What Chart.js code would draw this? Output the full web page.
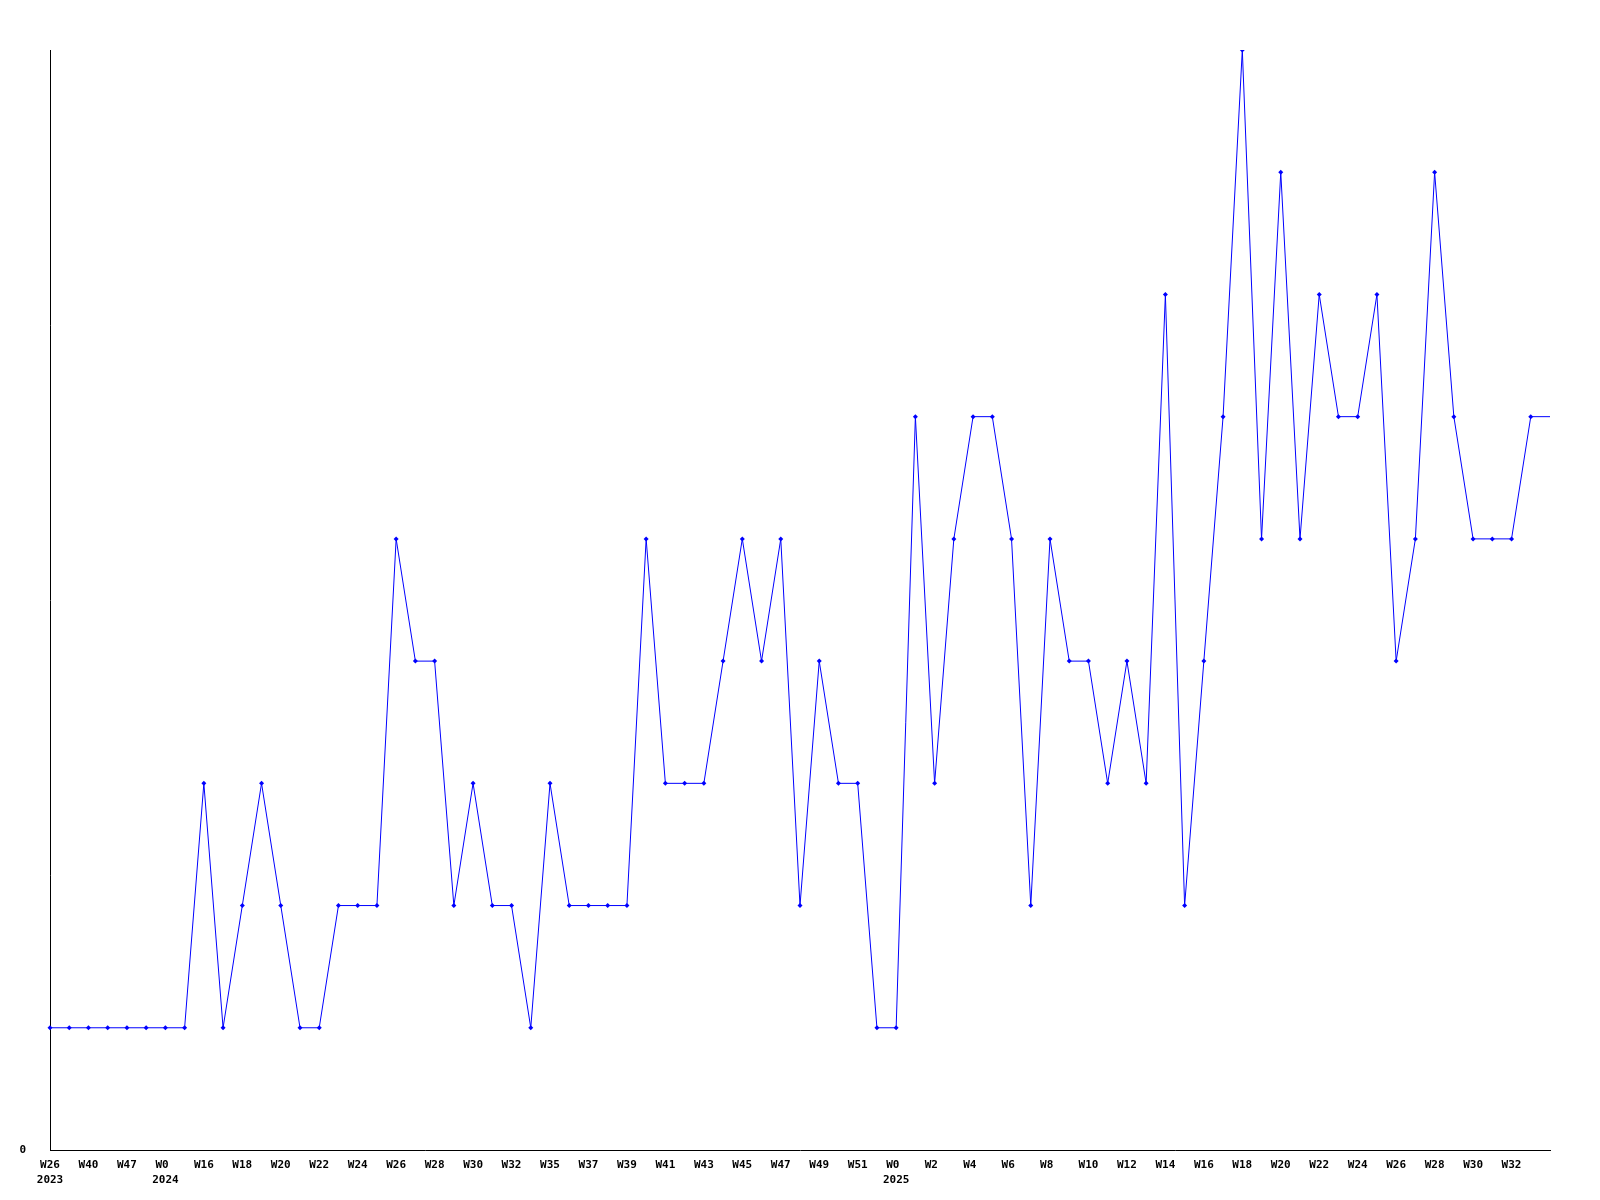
<!DOCTYPE html>
<html>
<head>
<meta charset="utf-8">
<script src="https://cdn.jsdelivr.net/npm/chart.js@4/dist/chart.umd.min.js"></script>
<style>
html,body{margin:0;padding:0;background:#fff;}
#wrap{width:1600px;height:1200px;position:relative;}
</style>
</head>
<body>
<div id="wrap"><canvas id="c" width="1600" height="1200"></canvas></div>
<script>
// Week labels (odd-index entries are not shown on the axis)
const weeks = [
  'W26','W33','W40','W44','W47','W50','W0','W10','W16','W17',
  'W18','W19','W20','W21','W22','W23','W24','W25','W26','W27',
  'W28','W29','W30','W31','W32','W34','W35','W36','W37','W38',
  'W39','W40','W41','W42','W43','W44','W45','W46','W47','W48',
  'W49','W50','W51','W52','W0','W1','W2','W3','W4','W5',
  'W6','W7','W8','W9','W10','W11','W12','W13','W14','W15',
  'W16','W17','W18','W19','W20','W21','W22','W23','W24','W25',
  'W26','W27','W28','W29','W30','W31','W32','W33','W34'
];
// Year shown under the first label of each year
const years = {0:'2023', 6:'2024', 44:'2025'};
// Series values
const counts = [
  1,1,1,1,1,1,1,1,3,1,
  2,3,2,1,1,2,2,2,5,4,
  4,2,3,2,2,1,3,2,2,2,
  2,5,3,3,3,4,5,4,5,2,
  4,3,3,1,1,6,3,5,6,6,
  5,2,5,4,4,3,4,3,7,2,
  4,6,9,5,8,5,7,6,6,7,
  4,5,8,6,5,5,5,6,6
];
const yMin = 0, yMax = 9;

const labels = weeks.map((w, i) => years[i] ? [w, years[i]] : w);
const font = {family: '"DejaVu Sans Mono", monospace', size: 11, weight: 'bold', lineHeight: 1.4};

new Chart(document.getElementById('c'), {
  type: 'line',
  data: {
    labels: labels,
    datasets: [{
      data: counts,
      borderColor: '#0000ff',
      backgroundColor: '#0000ff',
      borderWidth: 1,
      tension: 0,
      pointStyle: 'rectRot',
      pointRadius: counts.map((v, i) => i === counts.length - 1 ? 0 : 2.5),
      pointBorderWidth: 0,
      pointBackgroundColor: '#0000ff',
      fill: false
    }]
  },
  options: {
    responsive: false,
    animation: false,
    events: [],
    layout: {padding: {top: 50, right: 50, bottom: 0, left: 0}},
    plugins: {legend: {display: false}, tooltip: {enabled: false}, title: {display: false}},
    scales: {
      x: {
        offset: false,
        grid: {display: false},
        border: {display: true, color: '#000', width: 1},
        ticks: {
          autoSkip: false,
          maxRotation: 0,
          minRotation: 0,
          color: '#000',
          font: font,
          padding: -1,
          callback: function(v, i) {
            if (i % 2 !== 0 || i >= labels.length - 1) return '';
            const l = labels[i];
            if (Array.isArray(l)) return [l[0].padEnd(3, ' '), l[1]];
            return l.padEnd(3, ' ');
          }
        },
        afterFit: function(s) { s.height = 50; }
      },
      y: {
        min: yMin,
        max: yMax,
        grid: {display: false},
        border: {display: true, color: '#000', width: 1},
        ticks: {
          stepSize: 1,
          color: '#000',
          font: font,
          padding: 16,
          callback: function(v) { return v === 0 ? '0' : ''; }
        },
        afterFit: function(s) { s.width = 50; }
      }
    }
  }
});
</script>
</body>
</html>
